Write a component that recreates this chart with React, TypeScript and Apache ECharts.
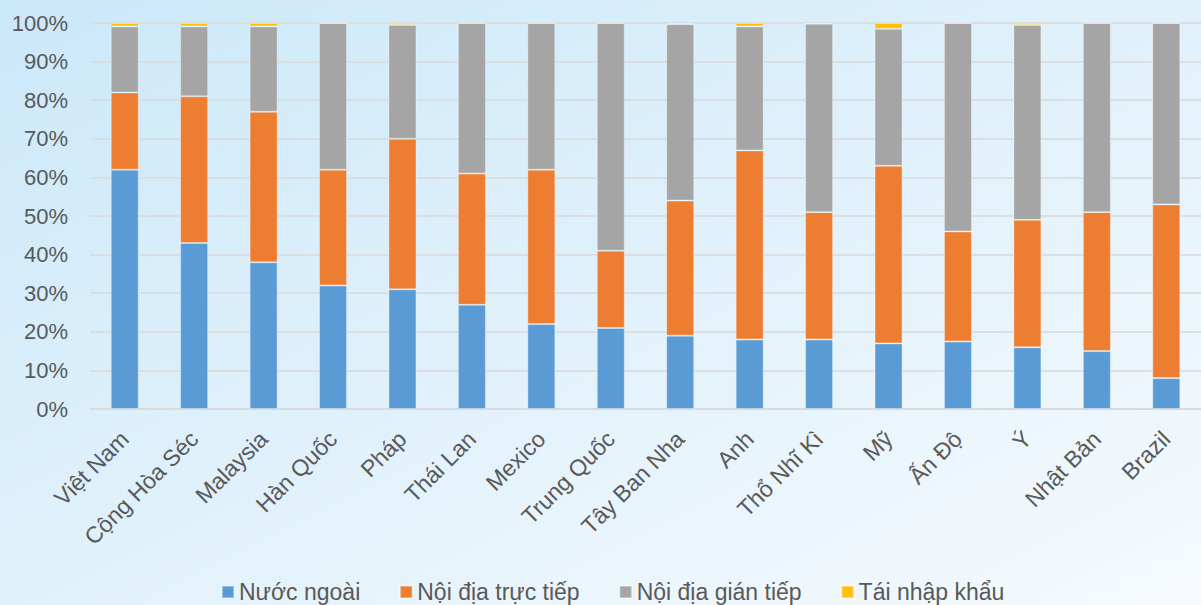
import React, { useEffect, useRef } from "react";
import * as echarts from "echarts";

const categories = ["Việt Nam", "Cộng Hòa Séc", "Malaysia", "Hàn Quốc", "Pháp", "Thái Lan", "Mexico", "Trung Quốc", "Tây Ban Nha", "Anh", "Thổ Nhĩ Kì", "Mỹ", "Ấn Độ", "Ý", "Nhật Bản", "Brazil"];
const nuocNgoai = [62, 43, 38, 32, 31, 27, 22, 21, 19, 18, 18, 17, 17.5, 16, 15, 8];
const noiDiaTrucTiep = [20, 38, 39, 30, 39, 34, 40, 20, 35, 49, 33, 46, 28.5, 33, 36, 45];
const noiDiaGianTiep = [17.1, 18.1, 22.1, 38, 29.5, 39, 38, 59, 45.7, 32.1, 48.8, 35.5, 54, 50.5, 49, 47];
const taiNhapKhau = [0.9, 0.9, 0.9, 0, 0.5, 0, 0, 0, 0.3, 0.9, 0.2, 1.5, 0, 0.5, 0, 0];
const seriesNames = ["Nước ngoài", "Nội địa trực tiếp", "Nội địa gián tiếp", "Tái nhập khẩu"];
const colors = ["#5b9bd5", "#ed7d31", "#a5a5a5", "#ffc000"];
const yTicks = [0, 10, 20, 30, 40, 50, 60, 70, 80, 90, 100];

export default function App() {
  const ref = useRef<HTMLDivElement>(null);
  useEffect(() => {
    if (!ref.current) return;
    const chart = echarts.init(ref.current, undefined, { renderer: "svg" });
    const dataSets = [nuocNgoai, noiDiaTrucTiep, noiDiaGianTiep, taiNhapKhau];
    chart.setOption({
      animation: false,
      backgroundColor: new echarts.graphic.LinearGradient(0, 0, 1, 1, [
        { offset: 0, color: "#cbe8f9" },
        { offset: 1, color: "#f6fafd" },
      ]),
      textStyle: { fontFamily: "Liberation Sans, Arial, sans-serif" },
      grid: { left: 90, right: -9, top: 23, bottom: 196, containLabel: false },
      legend: {
        top: 578,
        left: 221,
        padding: 0,
        itemWidth: 12,
        itemHeight: 12,
        itemGap: 39,
        icon: "rect",
        textStyle: { fontSize: 23, color: "#595959", lineHeight: 28 },
        data: seriesNames,
      },
      xAxis: {
        type: "category",
        data: categories,
        axisLine: { lineStyle: { color: "#d9d9d9", width: 1.5 } },
        axisTick: { show: false },
        axisLabel: { rotate: 45, fontSize: 23, color: "#595959", margin: 26, interval: 0 },
      },
      yAxis: {
        type: "value",
        min: 0,
        max: 100,
        interval: 10,
        axisLabel: {
          fontSize: 22,
          color: "#595959",
          margin: 22,
          formatter: (v: number) => (yTicks.includes(v) ? v + "%" : ""),
        },
        splitLine: { lineStyle: { color: "#d9d9d9", width: 1.5 } },
        axisLine: { show: false },
        axisTick: { show: false },
      },
      series: seriesNames.map((name, i) => ({
        name,
        type: "bar",
        stack: "total",
        barWidth: 28,
        data: dataSets[i],
        itemStyle: { color: colors[i], borderColor: "rgba(255,255,255,0.35)", borderWidth: 1 },
      })),
    });
    return () => chart.dispose();
  }, []);
  return <div ref={ref} style={{ position: "absolute", left: 0, top: 0, width: 1201, height: 605 }} />;
}
